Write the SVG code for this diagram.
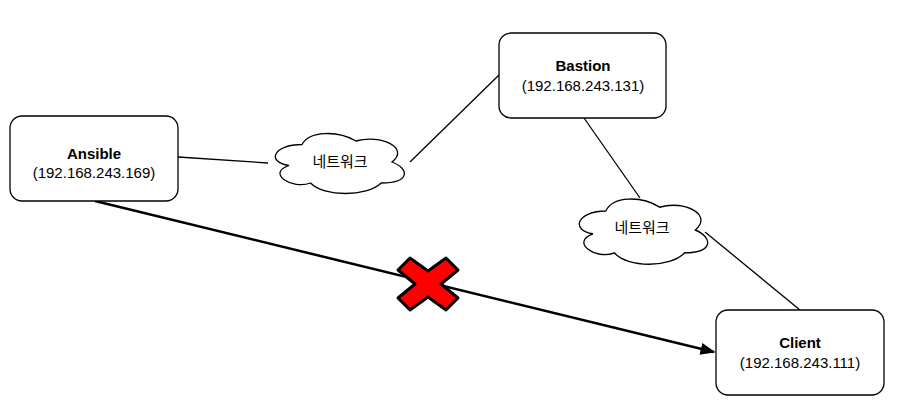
<svg xmlns="http://www.w3.org/2000/svg" width="897" height="410" viewBox="0 0 897 410">
<style>
.n{fill:#fff;stroke:#000;stroke-width:1.3}
.t{font-family:"Liberation Sans","Noto Sans CJK KR",sans-serif;font-size:15px;text-anchor:middle;fill:#000}
.b{font-weight:bold}
.c{stroke:#000;stroke-width:1.3;fill:none}
</style>
<defs>
<path id="cl" d="M36,17.5 C7.2,17.5 0,35 23,38.5 C0,46.2 25.9,63 44.6,56 C57.6,70 100.8,70 115.2,56 C144,56 144,42 126,35 C144,21 115.2,7 90,14 C72,3.5 43.2,3.5 36,17.5 Z"/>
<marker id="ar" viewBox="0 0 10 10" refX="9" refY="5" markerWidth="6" markerHeight="6" orient="auto" markerUnits="strokeWidth"><path d="M0,1 L10,5 L0,9 Z" fill="#000"/></marker>
</defs>
<rect width="897" height="410" fill="#fff"/>
<g id="connectors">
<line class="c" x1="178" y1="157" x2="268" y2="163"/>
<line class="c" x1="410" y1="162" x2="499" y2="75"/>
<line class="c" x1="584" y1="118" x2="640" y2="198"/>
<line class="c" x1="705" y1="232" x2="800" y2="310"/>
<line x1="95" y1="201" x2="714" y2="352" stroke="#000" stroke-width="2.5" marker-end="url(#ar)"/>
</g>
<g id="cloud1"><use href="#cl" transform="translate(266,127)" fill="#fff" stroke="#000" stroke-width="1.3"/><text class="t" x="340" y="167">네트워크</text></g>
<g id="cloud2"><use href="#cl" transform="translate(570,192) scale(0.995,1.086)" fill="#fff" stroke="#000" stroke-width="1.3"/><text class="t" x="642" y="233">네트워크</text></g>
<g id="ansible"><rect class="n" x="10" y="116" width="168" height="85" rx="12"/><text class="t b" x="94" y="159">Ansible</text><text class="t" x="94" y="178">(192.168.243.169)</text></g>
<g id="bastion"><rect class="n" x="499" y="33" width="167" height="85" rx="12"/><text class="t b" x="583" y="71">Bastion</text><text class="t" x="583" y="91">(192.168.243.131)</text></g>
<g id="client"><rect class="n" x="716" y="310" width="168" height="85" rx="12"/><text class="t b" x="800" y="348">Client</text><text class="t" x="800" y="368">(192.168.243.111)</text></g>
<g id="cross"><path d="M410,258 L428,271 L446,258 L458,270 L441,284 L458,298 L446,310 L428,297 L410,310 L398,298 L415,284 L398,270 Z" fill="#f00" stroke="#000" stroke-width="3" stroke-linejoin="round"/></g>
</svg>
